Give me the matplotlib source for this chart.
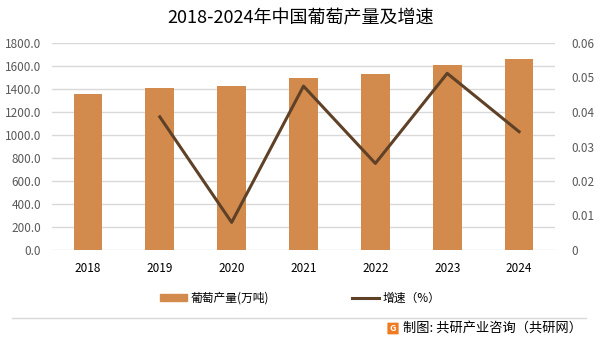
import matplotlib
matplotlib.use("Agg")
import matplotlib.pyplot as plt
from matplotlib.patches import FancyBboxPatch
from matplotlib.lines import Line2D

plt.rcParams['font.family'] = ['Noto Sans CJK SC', 'DejaVu Sans']

# --- data ---
years = ["2018", "2019", "2020", "2021", "2022", "2023", "2024"]
output = [1356, 1409, 1426, 1496, 1530, 1609, 1661]          # 万吨
growth = [None, 0.0386, 0.0080, 0.0475, 0.0251, 0.0512, 0.0343]

left_ticks = [0, 200, 400, 600, 800, 1000, 1200, 1400, 1600, 1800]
right_ticks = [0, 0.01, 0.02, 0.03, 0.04, 0.05, 0.06]

BAR = "#D38B4D"
LINE = "#5E4127"
GRID = "#D9D9D9"
TICK = "#595959"

fig = plt.figure(figsize=(6.01, 3.45), dpi=100)
ax = fig.add_axes([52 / 601, 1 - 250 / 345, 503 / 601, 207 / 345])

x = list(range(len(years)))
ax.bar(x, output, width=0.4, color=BAR, zorder=2)
ax.set_xlim(-0.5, len(years) - 0.5)
ax.set_ylim(0, 1800)
ax.set_yticks(left_ticks)
ax.set_yticklabels([f"{v:.1f}" for v in left_ticks])
ax.set_xticks(x)
ax.set_xticklabels(years)
ax.grid(axis="y", color=GRID, linewidth=1, zorder=1)
for s in ax.spines.values():
    s.set_visible(False)
ax.tick_params(axis="y", length=0, labelsize=8.5, labelcolor=TICK, pad=8)
ax.tick_params(axis="x", length=0, labelsize=8.5, labelcolor="#000000", pad=9)

ax2 = ax.twinx()
gx = [i for i, g in zip(x, growth) if g is not None]
gy = [g for g in growth if g is not None]
ax2.plot(gx, gy, color=LINE, linewidth=2.2, zorder=3)
ax2.set_ylim(0, 0.06)
ax2.set_yticks(right_ticks)
ax2.set_yticklabels(["0"] + [f"{v:.2f}" for v in right_ticks[1:]])
for s in ax2.spines.values():
    s.set_visible(False)
ax2.tick_params(axis="y", length=0, labelsize=8.5, labelcolor=TICK, pad=12)

fig.text(0.5, 1 - 18 / 345, "2018-2024年中国葡萄产量及增速", fontsize=13,
         ha="center", va="center", color="#000000")

# legend
handles = [plt.Rectangle((0, 0), 1, 1, color=BAR), Line2D([0], [0], color=LINE, linewidth=2.2)]
fig.legend(handles, ["葡萄产量(万吨)", "增速（%）"], loc="center", ncol=2,
           bbox_to_anchor=(0.50, 1 - 298 / 345), frameon=False, fontsize=8.5,
           handlelength=2.3, handleheight=0.6, columnspacing=7.0, handletextpad=0.3)

# separator and source
fig.add_artist(Line2D([12 / 601, 586 / 601], [1 - 318 / 345] * 2, color="#D9D9D9", linewidth=1))
logo = FancyBboxPatch((388 / 601, 1 - 334 / 345), 10 / 601, 11 / 345,
                      boxstyle="round,pad=0.001", transform=fig.transFigure,
                      facecolor="#F07A22", edgecolor="none")
fig.add_artist(logo)
fig.text(393 / 601, 1 - 328.5 / 345, "G", fontsize=6.5, fontweight="bold", color="white",
         ha="center", va="center")
fig.text(403 / 601, 1 - 328 / 345, "制图: 共研产业咨询（共研网）", fontsize=9.5,
         ha="left", va="center", color="#000000")

fig.savefig("out.png", dpi=100)
